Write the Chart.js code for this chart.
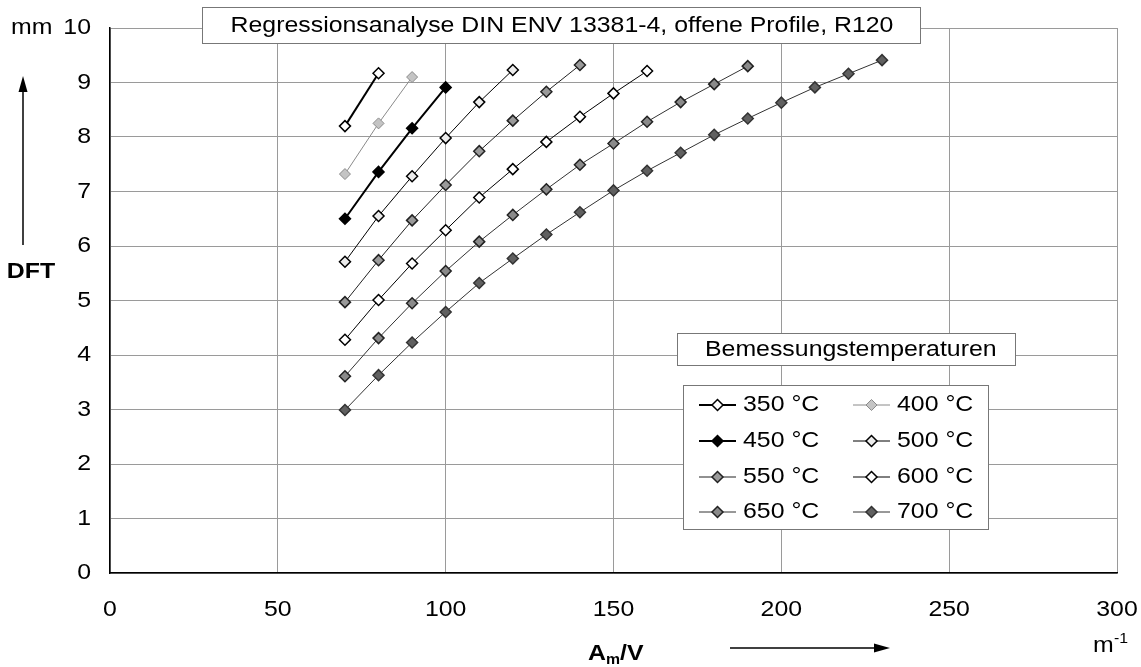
<!DOCTYPE html>
<html>
<head>
<meta charset="utf-8">
<script src="https://cdn.jsdelivr.net/npm/chart.js@4.4.1/dist/chart.umd.min.js"></script>
<style>
  html, body { margin: 0; padding: 0; background: #fff; }
  #wrap { width: 1141px; height: 667px; position: relative; }
</style>
</head>
<body>
<div id="wrap"><canvas id="c" width="1141" height="667"></canvas></div>
<script>
// Profilfaktor A_m/V [1/m]
const amv = [70, 80, 90, 100, 110, 120, 130, 140, 150, 160, 170, 180, 190, 200, 210, 220, 230];

// Erforderliche Trockenschichtdicke DFT [mm] je Bemessungstemperatur
const dft350 = [8.20, 9.17];
const dft400 = [7.32, 8.25, 9.10];
const dft450 = [6.50, 7.36, 8.16, 8.91];
const dft500 = [5.71, 6.55, 7.28, 7.98, 8.64, 9.23];
const dft550 = [4.97, 5.74, 6.47, 7.12, 7.74, 8.30, 8.83, 9.32];
const dft600 = [4.28, 5.01, 5.68, 6.29, 6.89, 7.41, 7.91, 8.37, 8.80, 9.21];
const dft650 = [3.61, 4.31, 4.95, 5.54, 6.08, 6.57, 7.04, 7.49, 7.88, 8.28, 8.64, 8.97, 9.30];
const dft700 = [2.99, 3.63, 4.23, 4.79, 5.32, 5.77, 6.21, 6.62, 7.02, 7.38, 7.71, 8.04, 8.34, 8.63, 8.91, 9.16, 9.41];

const labels = ['350 °C', '400 °C', '450 °C', '500 °C', '550 °C', '600 °C', '650 °C', '700 °C'];
const xTicks = [0, 50, 100, 150, 200, 250, 300];
const yTicks = [0, 1, 2, 3, 4, 5, 6, 7, 8, 9, 10];

const FONT = '"Liberation Sans", Arial, Helvetica, sans-serif';
const SIZE = 22;
const STRETCH = 1.13;

const toPoints = vals => vals.map((v, i) => ({ x: amv[i], y: v }));

const styles = [
  { line: '#000', lw: 2,   fill: '#fff',    edge: '#000', bw: 1.5 },
  { line: '#8a8a8a', lw: 1, fill: '#c4c4c4', edge: '#8a8a8a', bw: 1 },
  { line: '#000', lw: 2,   fill: '#000',    edge: '#000', bw: 1.5 },
  { line: '#000', lw: 1,   fill: '#ececec', edge: '#000', bw: 1.5 },
  { line: '#222', lw: 1,   fill: '#9a9a9a', edge: '#222', bw: 1.5 },
  { line: '#000', lw: 1,   fill: '#fff',    edge: '#000', bw: 1.5 },
  { line: '#333', lw: 1,   fill: '#8a8a8a', edge: '#222', bw: 1.5 },
  { line: '#333', lw: 1,   fill: '#606060', edge: '#333', bw: 1.5 }
];

const series = [dft350, dft400, dft450, dft500, dft550, dft600, dft650, dft700];

const datasets = series.map((vals, i) => ({
  label: labels[i],
  data: toPoints(vals),
  showLine: true,
  borderColor: styles[i].line,
  borderWidth: styles[i].lw,
  pointStyle: 'rectRot',
  pointRadius: 5.5,
  pointBackgroundColor: styles[i].fill,
  pointBorderColor: styles[i].edge,
  pointBorderWidth: styles[i].bw,
  tension: 0
}));

// text drawn slightly widened, like the Helvetica face of the print
function txt(ctx, s, x, y, align, font, base) {
  ctx.save();
  ctx.font = font || (SIZE + 'px ' + FONT);
  ctx.textAlign = align || 'left';
  ctx.textBaseline = base || 'middle';
  ctx.translate(x, y);
  ctx.scale(STRETCH, 1);
  ctx.fillStyle = '#000';
  ctx.fillText(s, 0, 0);
  const w = ctx.measureText(s).width * STRETCH;
  ctx.restore();
  return w;
}

function arrow(ctx, x1, y1, x2, y2) {
  ctx.save();
  ctx.strokeStyle = '#000';
  ctx.fillStyle = '#000';
  ctx.lineWidth = 1.5;
  const ang = Math.atan2(y2 - y1, x2 - x1);
  const hl = 16, hw = 4.5;
  const bx = x2 - Math.cos(ang) * hl, by = y2 - Math.sin(ang) * hl;
  ctx.beginPath();
  ctx.moveTo(x1, y1);
  ctx.lineTo(bx, by);
  ctx.stroke();
  ctx.beginPath();
  ctx.moveTo(x2, y2);
  ctx.lineTo(bx - Math.sin(ang) * hw, by + Math.cos(ang) * hw);
  ctx.lineTo(bx + Math.sin(ang) * hw, by - Math.cos(ang) * hw);
  ctx.closePath();
  ctx.fill();
  ctx.restore();
}

function box(ctx, x, y, w, h) {
  ctx.save();
  ctx.fillStyle = '#fff';
  ctx.fillRect(x, y, w, h);
  ctx.strokeStyle = '#777';
  ctx.lineWidth = 1;
  ctx.strokeRect(x + 0.5, y + 0.5, w, h);
  ctx.restore();
}

const decorations = {
  id: 'decorations',
  afterDraw(chart) {
    const ctx = chart.ctx;
    const sx = chart.scales.x, sy = chart.scales.y;

    // Achsbeschriftungen (Tick-Werte)
    xTicks.forEach(v => txt(ctx, String(v), sx.getPixelForValue(v), 610, 'center'));
    yTicks.forEach(v => txt(ctx, String(v), 91, sy.getPixelForValue(v), 'right'));

    // Titel
    box(ctx, 202, 7, 718, 36);
    txt(ctx, 'Regressionsanalyse DIN ENV 13381-4, offene Profile, R120', 562, 26, 'center');

    // Einheit und Achsenbezeichnung y
    txt(ctx, 'mm', 11, 28, 'left');
    txt(ctx, 'DFT', 31, 272, 'center', 'bold ' + SIZE + 'px ' + FONT);
    arrow(ctx, 23, 245, 23, 76);

    // Achsenbezeichnung x
    let ax = 588;
    const ay = 660;
    ax += txt(ctx, 'A', ax, ay, 'left', 'bold ' + SIZE + 'px ' + FONT, 'alphabetic');
    ax += txt(ctx, 'm', ax, ay + 4, 'left', 'bold 14px ' + FONT, 'alphabetic');
    txt(ctx, '/V', ax, ay, 'left', 'bold ' + SIZE + 'px ' + FONT, 'alphabetic');
    arrow(ctx, 730, 648, 890, 648);

    txt(ctx, 'm', 1093, 652, 'left', SIZE + 'px ' + FONT, 'alphabetic');
    txt(ctx, '-1', 1114, 643, 'left', '14px ' + FONT, 'alphabetic');

    // Legende
    box(ctx, 677, 333, 338, 32);
    txt(ctx, 'Bemessungstemperaturen', 705, 350, 'left');

    box(ctx, 683, 385, 305, 144);
    const cols = [{ l0: 699, l1: 736, tx: 743 }, { l0: 853, l1: 890, tx: 897 }];
    const rows = [405, 441, 477, 512];
    chart.data.datasets.forEach((ds, i) => {
      const c = cols[i % 2], ry = rows[Math.floor(i / 2)];
      ctx.save();
      ctx.strokeStyle = ds.borderColor;
      ctx.lineWidth = ds.borderWidth;
      ctx.beginPath();
      ctx.moveTo(c.l0, ry);
      ctx.lineTo(c.l1, ry);
      ctx.stroke();
      ctx.fillStyle = ds.pointBackgroundColor;
      ctx.strokeStyle = ds.pointBorderColor;
      ctx.lineWidth = ds.pointBorderWidth;
      Chart.helpers.drawPoint(ctx, { pointStyle: 'rectRot', radius: 5.5, rotation: 0, borderWidth: ds.pointBorderWidth }, (c.l0 + c.l1) / 2, ry);
      ctx.restore();
      txt(ctx, ds.label, c.tx, ry, 'left');
    });
  }
};

new Chart(document.getElementById('c'), {
  type: 'scatter',
  data: { datasets },
  plugins: [decorations],
  options: {
    responsive: false,
    animation: false,
    devicePixelRatio: 1,
    layout: { padding: { top: 28, right: 24, left: 0, bottom: 0 } },
    plugins: { legend: { display: false }, tooltip: { enabled: false } },
    scales: {
      x: {
        type: 'linear',
        min: 0, max: 300,
        afterBuildTicks: s => { s.ticks = xTicks.map(v => ({ value: v })); },
        afterFit: s => { s.height = 94; },
        grid: { color: '#9a9a9a', lineWidth: 1, drawTicks: false },
        border: { color: '#000', width: 1.5 },
        ticks: { display: false }
      },
      y: {
        type: 'linear',
        min: 0, max: 10,
        afterBuildTicks: s => { s.ticks = yTicks.map(v => ({ value: v })); },
        afterFit: s => { s.width = 110; },
        grid: { color: '#9a9a9a', lineWidth: 1, drawTicks: false },
        border: { color: '#000', width: 1.5 },
        ticks: { display: false }
      }
    }
  }
});
</script>
</body>
</html>
